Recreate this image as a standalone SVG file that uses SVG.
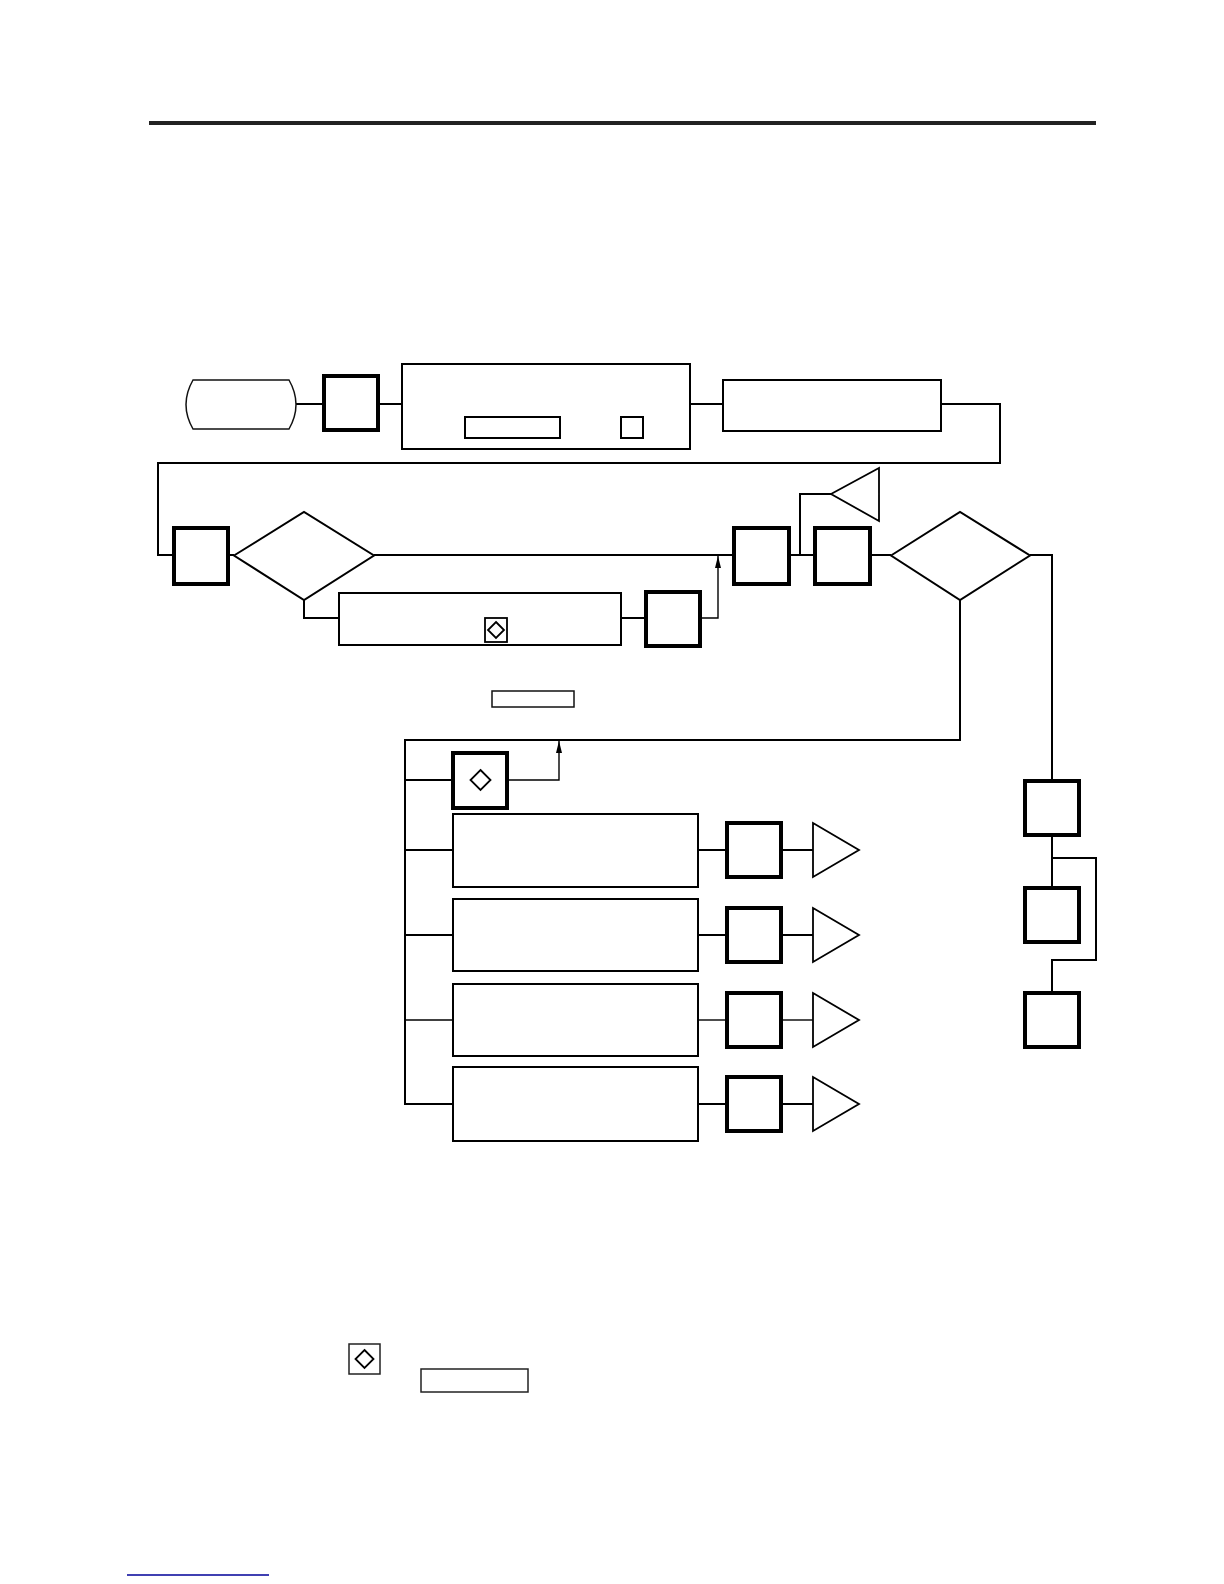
<svg xmlns="http://www.w3.org/2000/svg" width="1224" height="1584" viewBox="0 0 1224 1584">
<style>
  .node{fill:#fff;stroke:#000;stroke-width:2}
  .thick{fill:#fff;stroke:#000;stroke-width:4}
  .thin{fill:#fff;stroke:#111;stroke-width:1.5}
  .conn{fill:none;stroke:#000;stroke-width:2}
  .arrow{fill:none;stroke:#000;stroke-width:1.4}
  .tri{fill:#fff;stroke:#000;stroke-width:1.8}
  .dm{fill:none;stroke:#000;stroke-width:1.8}
</style>
<defs>
  <marker id="ah" viewBox="0 0 12 6" refX="12" refY="3" markerWidth="12" markerHeight="6" markerUnits="userSpaceOnUse" orient="auto">
    <path d="M0,0 L12,3 L0,6 Z" fill="#000"/>
  </marker>
</defs>
<rect width="1224" height="1584" fill="#fff"/>
<line x1="149" y1="123" x2="1096" y2="123" stroke="#222" stroke-width="4"/>

<g id="connectors">
  <line class="conn" x1="296" y1="404" x2="324" y2="404"/>
  <line class="conn" x1="378" y1="404" x2="402" y2="404"/>
  <line class="conn" x1="690" y1="404" x2="723" y2="404"/>
  <polyline class="conn" points="941,404 1000,404 1000,463 158,463 158,555 174,555"/>
  <line class="conn" x1="228" y1="555" x2="234" y2="555"/>
  <line class="conn" x1="374" y1="555" x2="734" y2="555"/>
  <polyline class="conn" points="304,600 304,618 339,618"/>
  <line class="conn" x1="621" y1="618" x2="646" y2="618"/>
  <polyline class="arrow" points="701,618 718,618 718,556" marker-end="url(#ah)"/>
  <line class="conn" x1="789" y1="555" x2="815" y2="555"/>
  <polyline class="conn" points="800,555 800,494 831,494"/>
  <line class="conn" x1="870" y1="555" x2="891" y2="555"/>
  <polyline class="conn" points="1030,555 1052,555 1052,781"/>
  <polyline class="conn" points="960,600 960,740 405,740 405,1104 453,1104"/>
  <line class="conn" x1="405" y1="780" x2="453" y2="780"/>
  <polyline class="arrow" points="507,780 559,780 559,741" marker-end="url(#ah)"/>
  <line class="conn" x1="405" y1="850" x2="453" y2="850"/>
  <line class="conn" x1="405" y1="935" x2="453" y2="935"/>
  <line class="arrow" x1="405" y1="1020" x2="453" y2="1020"/>
  <line class="conn" x1="698" y1="850" x2="727" y2="850"/>
  <line class="conn" x1="781" y1="850" x2="813" y2="850"/>
  <line class="conn" x1="698" y1="935" x2="727" y2="935"/>
  <line class="conn" x1="781" y1="935" x2="813" y2="935"/>
  <line class="arrow" x1="698" y1="1020" x2="727" y2="1020"/>
  <line class="arrow" x1="781" y1="1020" x2="813" y2="1020"/>
  <line class="conn" x1="698" y1="1104" x2="727" y2="1104"/>
  <line class="conn" x1="781" y1="1104" x2="813" y2="1104"/>
  <line class="conn" x1="1052" y1="835" x2="1052" y2="888"/>
  <polyline class="conn" points="1052,858 1096,858 1096,960 1052,960 1052,993"/>
</g>

<g id="start"><path class="thin" d="M193,380 L289,380 Q303,404.5 289,429 L193,429 Q179,404.5 193,380 Z"/></g>
<g id="sq1"><rect class="thick" x="324" y="376" width="54" height="54"/></g>
<g id="panel1">
  <rect class="node" x="402" y="364" width="288" height="85"/>
  <rect class="node" x="465" y="417" width="95" height="21"/>
  <rect class="node" x="621" y="417" width="22" height="21"/>
</g>
<g id="rect2"><rect class="node" x="723" y="380" width="218" height="51"/></g>
<g id="sq2"><rect class="thick" x="174" y="528" width="54" height="56"/></g>
<g id="dia1"><path class="node" d="M234,555.5 L304,512 L374,555.5 L304,600 Z"/></g>
<g id="rect3">
  <rect class="node" x="339" y="593" width="282" height="52"/>
  <rect x="485" y="618" width="22" height="24" fill="#fff" stroke="#000" stroke-width="1.8"/>
  <path class="dm" d="M496,622 L504,630 L496,638 L488,630 Z"/>
</g>
<g id="sq3"><rect class="thick" x="646" y="592" width="54" height="54"/></g>
<g id="sq4"><rect class="thick" x="734" y="528" width="55" height="56"/></g>
<g id="tri1"><path class="tri" d="M831,494 L879,468 L879,521 Z"/></g>
<g id="sq5"><rect class="thick" x="815" y="528" width="55" height="56"/></g>
<g id="dia2"><path class="node" d="M891,555.5 L960,512 L1030,555.5 L960,600 Z"/></g>
<g id="label1"><rect class="thin" x="492" y="691" width="82" height="16"/></g>
<g id="sq6">
  <rect class="thick" x="453" y="753" width="54" height="55"/>
  <path class="dm" d="M480.5,770 L490.5,780 L480.5,790 L470.5,780 Z"/>
</g>
<g id="row1"><rect class="node" x="453" y="814" width="245" height="73"/><rect class="thick" x="727" y="823" width="54" height="54"/><path class="tri" d="M813,823 L859,850 L813,877 Z"/></g>
<g id="row2"><rect class="node" x="453" y="899" width="245" height="72"/><rect class="thick" x="727" y="908" width="54" height="54"/><path class="tri" d="M813,908 L859,935 L813,962 Z"/></g>
<g id="row3"><rect class="node" x="453" y="984" width="245" height="72"/><rect class="thick" x="727" y="993" width="54" height="54"/><path class="tri" d="M813,993 L859,1020 L813,1047 Z"/></g>
<g id="row4"><rect class="node" x="453" y="1067" width="245" height="74"/><rect class="thick" x="727" y="1077" width="54" height="54"/><path class="tri" d="M813,1077 L859,1104 L813,1131 Z"/></g>
<g id="sq7"><rect class="thick" x="1025" y="781" width="54" height="54"/></g>
<g id="sq8"><rect class="thick" x="1025" y="888" width="54" height="54"/></g>
<g id="sq9"><rect class="thick" x="1025" y="993" width="54" height="54"/></g>
<g id="legend">
  <rect x="349" y="1344" width="31" height="30" fill="#fff" stroke="#222" stroke-width="1.5"/>
  <path class="dm" d="M364.5,1350 L373.5,1359 L364.5,1368 L355.5,1359 Z"/>
  <rect x="421" y="1369" width="107" height="23" fill="#fff" stroke="#222" stroke-width="1.5"/>
</g>
<line x1="127" y1="1575" x2="269" y2="1575" stroke="#000099" stroke-width="1.5"/>
</svg>
